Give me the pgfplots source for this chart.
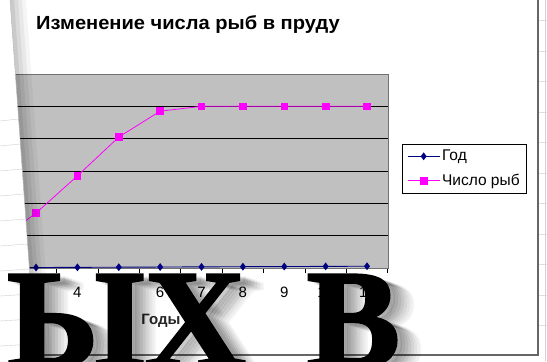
\documentclass[border=0pt]{standalone}
\usepackage{pgfplots}
\pgfplotsset{compat=1.18}
\usepackage{fontspec}
\setmainfont{Liberation Sans}
\newfontfamily\serifheavy[FakeBold=2]{Liberation Serif Bold}
\definecolor{plotgray}{HTML}{C0C0C0}
\definecolor{navy}{HTML}{000080}
\definecolor{mag}{HTML}{FF00FF}
\begin{document}
\begin{tikzpicture}[x=1bp,y=1bp]
\useasboundingbox (0,0) rectangle (547,361);
\clip (0,0) rectangle (547,361);
\fill[white] (0,0) rectangle (547,361);
\foreach \y in {341,310,280,249,219,188,158,127,97,66,36} \draw[gray!25] (538,\y) -- (547,\y);
\draw[gray!35] (545,0)--(545,361);
\draw[black!60, line width=1.2] (538,361) -- (538,6) -- (0,6);
\begin{axis}[
  at={(-1.2bp,93bp)}, anchor=south west, scale only axis,
  width=388.9bp, height=194bp,
  xmin=2.1, xmax=11.5, ymin=0, ymax=1200,
  clip=false,
  axis background/.style={fill=plotgray},
  axis line style={draw=black!55},
  ytick={0,200,...,1200}, yticklabels={}, ytick style={draw=none},
  ymajorgrids, major grid style={black, line width=0.9},
  xtick={2.5,3.5,...,11.5}, xtick pos=lower,
  xticklabels={3,4,5,6,7,8,9,10,11,},
  tick align=outside, major tick length=5bp,
  xtick style={black, line width=0.7},
  xticklabel style={anchor=center, xshift=20.69bp, yshift=-19bp, font=\fontsize{15bp}{18bp}\selectfont},
  legend style={at={(1.0368,0.639)}, anchor=north west, draw=black, fill=white,
     font=\fontsize{15.5bp}{18bp}\selectfont, row sep=8bp, inner xsep=5bp, inner ysep=4bp},
  legend cell align=left,
  legend image code/.code={\draw[#1, mark repeat=2, mark phase=2] plot coordinates {(0bp,0bp) (16bp,0bp) (32bp,0bp)};},
]
\addplot[navy, line width=0.9, mark=diamond*, mark size=3.2, mark options={fill=navy}]
  coordinates {(2,2)(3,3)(4,4)(5,5)(6,6)(7,7)(8,8)(9,9)(10,10)(11,11)};
\addlegendentry{Год}
\addplot[mag, line width=0.8, mark=square*, mark size=3.3, mark options={fill=mag}]
  coordinates {(2,150)(3,340)(4,570)(5,810)(6,970)(7,1000)(8,1000)(9,1000)(10,1000)(11,1000)};
\addlegendentry{Число рыб}
\end{axis}
% axis title
\node[anchor=center, font=\bfseries\fontsize{15bp}{18bp}\selectfont, text=black!85] at (161,40) {Годы};
% chart title
\node[anchor=base west, inner sep=0, xscale=1.057, transform shape, font=\bfseries\fontsize{19bp}{22bp}\selectfont] at (36,331.7) {Изменение числа рыб в пруду};
% paper on the left
\foreach \o/\op in {16/0.04,12/0.05,8/0.06,4/0.07} \fill[black, opacity=\op] (0,361) -- (10+\o,361) -- (36+\o,0) -- (0,0) -- cycle;
\fill[white] (0,361) -- (10,361) -- (36,0) -- (0,0) -- cycle;
\foreach \y in {240,215,190,165,140,115,90,65,40,15} \draw[blue!10!gray!35] (0,\y) -- ({10+26*(361-\y)/361},\y+2);
\draw[gray!60] (10,361) -- (36,0);
% big overlapping slide text with soft shadow
\foreach \dx/\dy/\op in {6/-3/0.07,9/-4/0.07,12/-5/0.07,15/-6/0.06,18/-7/0.05,21/-8/0.04,24/-9/0.03}
  \node[anchor=base west, inner sep=0, text=black, opacity=\op, font=\serifheavy\fontsize{140bp}{140bp}\selectfont] at (7+\dx,-5.5+\dy) {ЫХ\hspace{26bp} В};
\node[anchor=base west, inner sep=0, text=black, font=\serifheavy\fontsize{140bp}{140bp}\selectfont] at (7,-5.5) {ЫХ\hspace{26bp} В};
\end{tikzpicture}
\end{document}
